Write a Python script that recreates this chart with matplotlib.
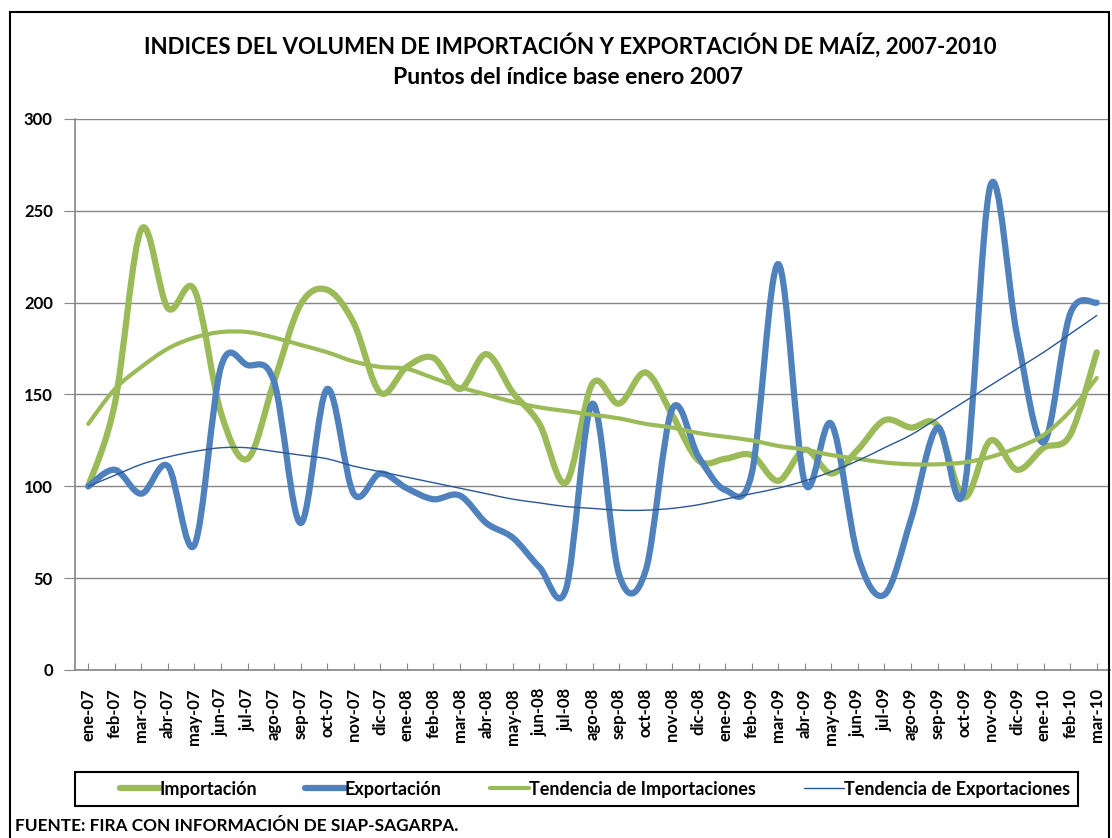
import numpy as np
import matplotlib
matplotlib.use("Agg")
import matplotlib.pyplot as plt
from matplotlib.path import Path
from matplotlib.patches import PathPatch, Rectangle
from matplotlib.lines import Line2D

plt.rcParams['font.family'] = ['Lato', 'DejaVu Sans']
plt.rcParams['font.weight'] = 'bold'

meses = ["ene-07", "feb-07", "mar-07", "abr-07", "may-07", "jun-07", "jul-07", "ago-07",
         "sep-07", "oct-07", "nov-07", "dic-07", "ene-08", "feb-08", "mar-08", "abr-08",
         "may-08", "jun-08", "jul-08", "ago-08", "sep-08", "oct-08", "nov-08", "dic-08",
         "ene-09", "feb-09", "mar-09", "abr-09", "may-09", "jun-09", "jul-09", "ago-09",
         "sep-09", "oct-09", "nov-09", "dic-09", "ene-10", "feb-10", "mar-10"]

importacion = [100, 145, 240, 197, 207, 140, 115, 157, 199, 207, 189, 151, 165, 170, 153,
               172, 151, 134, 102, 156, 145, 162, 139, 114, 115, 117, 103, 120, 107, 120,
               136, 132, 133, 94, 125, 109, 121, 128, 173]

exportacion = [100, 109, 96, 111, 68, 165, 166, 157, 80, 153, 96, 107, 99, 93, 95,
               80, 72, 56, 44, 145, 52, 54, 142, 116, 98, 107, 221, 102, 134, 62,
               41, 82, 132, 98, 264, 182, 124, 194, 200]

tend_import = [134, 153, 165, 175, 181, 184, 184, 181, 177, 173, 168, 165, 164, 159, 154,
               150, 146, 143, 141, 139, 137, 134, 132, 129, 127, 125, 122, 120, 117, 115,
               113, 112, 112, 113, 116, 121, 128, 141, 159]

tend_export = [100, 106, 112, 116, 119, 121, 121, 119, 117, 115, 111, 108, 105, 102, 99,
               96, 93, 91, 89, 88, 87, 87, 88, 90, 93, 96, 99, 103, 108, 114,
               121, 128, 137, 146, 155, 164, 173, 183, 193]

verde = "#9BBB59"
azul = "#4F81BD"
azul_osc = "#2A5699"

W, H = 1112, 838


def curva_suave(y):
    # Excel-like smoothed line: bezier through every point
    x = np.arange(len(y))
    y = np.asarray(y, dtype=float)
    n = len(y)
    verts = [(x[0], y[0])]
    codes = [Path.MOVETO]
    for i in range(n - 1):
        a = max(i - 1, 0)
        b = min(i + 2, n - 1)
        c1 = (x[i] + (x[i + 1] - x[a]) / 6, y[i] + (y[i + 1] - y[a]) / 6)
        c2 = (x[i + 1] - (x[b] - x[i]) / 6, y[i + 1] - (y[b] - y[i]) / 6)
        verts += [c1, c2, (x[i + 1], y[i + 1])]
        codes += [Path.CURVE4] * 3
    return Path(verts, codes)


fig = plt.figure(figsize=(W / 100, H / 100), dpi=100)
ax = fig.add_axes([75 / W, 1 - 670 / H, 1035 / W, 551 / H])

series = [
    (importacion, verde, 4.5, "Importación"),
    (exportacion, azul, 4.5, "Exportación"),
    (tend_import, verde, 3.0, "Tendencia de Importaciones"),
    (tend_export, azul_osc, 1.0, "Tendencia de Exportaciones"),
]
handles = []
for vals, col, lw, nombre in series:
    ax.add_patch(PathPatch(curva_suave(vals), fill=False, edgecolor=col, lw=lw,
                           capstyle='round', joinstyle='round', zorder=3))
    handles.append(Line2D([], [], color=col, lw=lw, label=nombre, solid_capstyle='round'))

ax.set_xlim(-0.5, len(meses) - 0.5)
ax.set_ylim(0, 300)
ax.set_yticks(range(0, 301, 50))
ax.set_xticks(range(len(meses)))
ax.set_xticklabels(meses, rotation=90, fontsize=12, fontweight='bold')
ax.tick_params(axis='x', direction='in', length=5, color='#868686', pad=13)
ax.tick_params(axis='y', direction='out', length=8, color='#868686', pad=8, labelsize=12)
for lab in ax.get_yticklabels():
    lab.set_fontweight('bold')
ax.grid(axis='y', color='#868686', lw=1)
ax.set_axisbelow(True)
for s in ['top', 'right']:
    ax.spines[s].set_visible(False)
for s in ['left', 'bottom']:
    ax.spines[s].set_color('#868686')
    ax.spines[s].set_linewidth(1.2)

fig.text(570 / W, 1 - 45 / H,
         "INDICES DEL VOLUMEN DE IMPORTACIÓN Y EXPORTACIÓN DE MAÍZ, 2007-2010",
         ha='center', va='center', fontsize=16, fontweight='bold')
fig.text(568 / W, 1 - 78 / H, "Puntos del índice base enero 2007",
         ha='center', va='center', fontsize=16.5, fontweight='bold')

# legend box
fig.patches.append(Rectangle((75 / W, 1 - 806 / H), 1003 / W, 34 / H,
                             transform=fig.transFigure, fill=False, edgecolor='black',
                             lw=1.5))
fig.legend(handles=handles, ncol=4, loc='center left',
           bbox_to_anchor=(120 / W, 1 - 789 / H),
           prop={'size': 13, 'weight': 'bold'}, frameon=False,
           handlelength=2.2, handletextpad=0.0, columnspacing=2.65,
           borderpad=0, borderaxespad=0)

fig.text(15 / W, 1 - 826 / H, "FUENTE: FIRA CON INFORMACIÓN DE SIAP-SAGARPA.",
         ha='left', va='center', fontsize=12.4, fontweight='bold')

fig.patches.append(Rectangle((10 / W, -0.05), 1099 / W, 0.05 + (H - 12) / H,
                             transform=fig.transFigure, fill=False, edgecolor='black',
                             lw=1.5))

fig.savefig("out.png", dpi=100)
